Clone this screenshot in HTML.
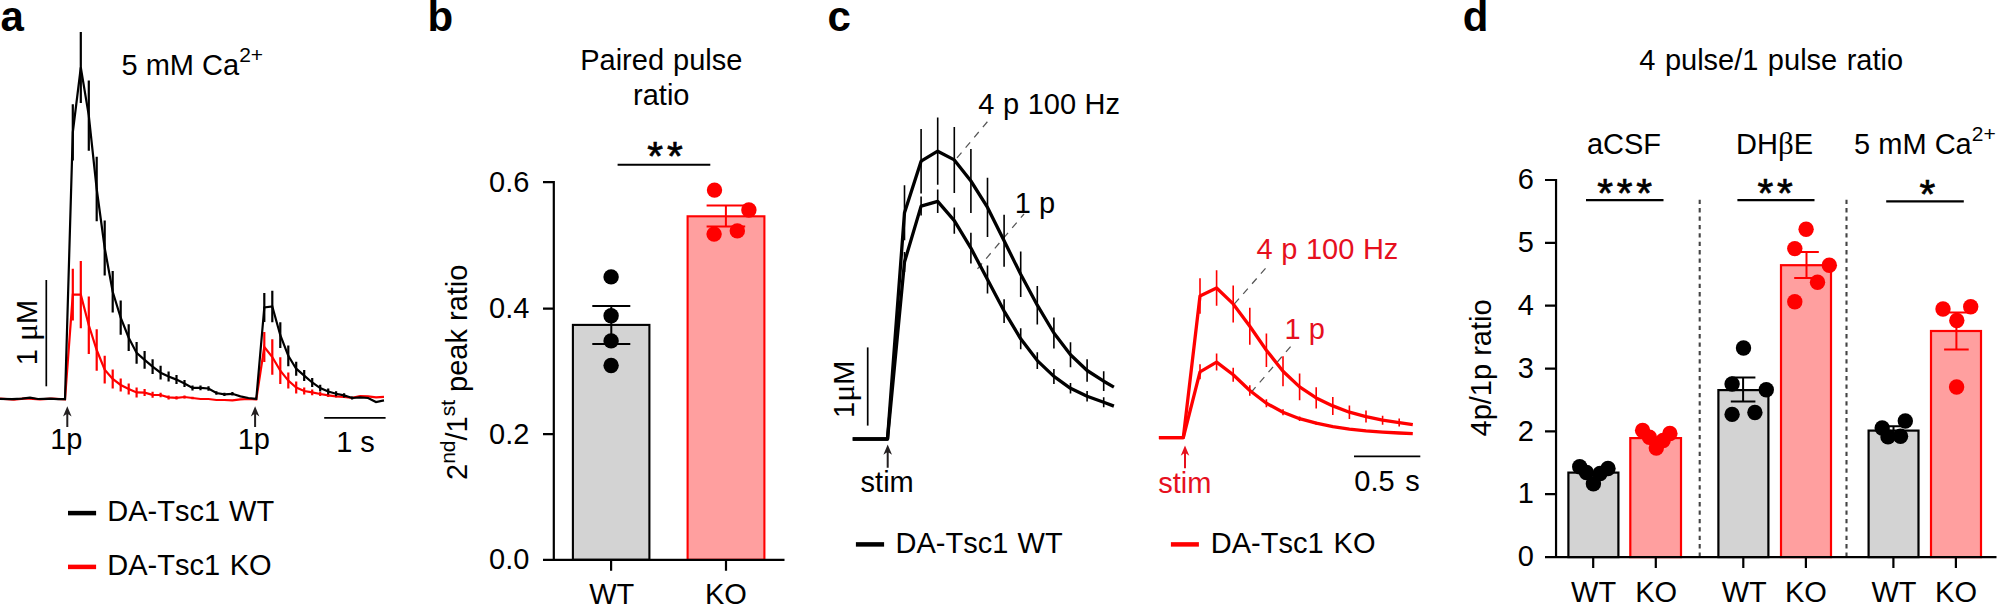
<!DOCTYPE html>
<html lang="en"><head><meta charset="utf-8"><title>Figure</title>
<style>html,body{margin:0;padding:0;background:#fff}svg{display:block}text{font-family:'Liberation Sans', Arial, Helvetica, sans-serif}</style>
</head><body>
<svg width="1998" height="606" viewBox="0 0 1998 606">
<rect width="1998" height="606" fill="#fff"/>
<g id="panel-a">
<text x="0.6" y="30.8" font-size="42" text-anchor="start" fill="#000" font-weight="bold">a</text>
<text x="121.5" y="75" font-size="29">5 mM Ca<tspan font-size="21" dy="-13">2+</tspan></text>
<polyline points="0.0,398.6 14.0,399.6 26.0,398.4 40.0,399.4 52.0,398.6 65.0,399.4 72.8,294.6 80.8,294.6 88.8,325.3 96.7,350.0 104.7,369.7 112.7,379.0 120.7,385.0 128.7,389.0 136.6,392.4 144.6,392.6 152.6,394.8 160.6,395.0 168.6,397.4 176.5,397.8 184.5,397.0 192.5,398.0 200.5,399.0 208.5,399.0 216.4,400.0 224.4,400.0 232.4,400.4 240.4,399.4 248.4,399.0 256.3,399.4 264.3,347.0 272.3,357.0 280.3,370.7 288.3,380.6 296.2,387.5 304.2,391.0 312.2,392.4 320.2,394.0 328.2,395.4 336.1,396.4 344.1,397.0 352.1,397.8 360.1,396.0 368.1,396.4 376.0,397.4 384.0,396.8" fill="none" stroke="#ff0000" stroke-width="2.2" stroke-linejoin="miter"/>
<path d="M72.8 268.8V320.4M80.8 261.0V328.2M88.8 296.6V354.0M96.7 329.2V370.8M104.7 355.8V383.6M112.7 369.6V388.4M120.7 378.5V391.5M128.7 383.5V394.5M136.6 387.4V397.4M144.6 389.1V396.1M152.6 391.8V397.8M160.6 392.8V397.2M168.6 395.4V399.4M176.5 396.2V399.4M184.5 395.5V398.5M192.5 396.8V399.2M264.3 332.1V361.9M272.3 339.2V374.8M280.3 357.3V384.1M288.3 372.6V388.6M296.2 381.6V393.4M304.2 387.5V394.5M312.2 389.6V395.2M320.2 391.9V396.1M328.2 393.8V397.0M336.1 395.2V397.6" fill="none" stroke="#ff0000" stroke-width="2.2"/>
<polyline points="0.0,398.8 12.0,399.2 22.0,398.6 30.0,397.6 38.0,399.0 50.0,398.6 58.0,399.2 65.0,399.2 72.8,132.4 80.8,67.5 88.8,115.6 96.7,189.0 104.7,248.0 112.7,291.7 120.7,317.7 128.7,337.7 136.6,352.9 144.6,359.8 152.6,366.7 160.6,372.7 168.6,376.6 176.5,379.6 184.5,383.5 192.5,387.9 200.5,387.9 208.5,388.5 216.4,393.0 224.4,394.4 232.4,393.8 240.4,396.4 248.4,398.0 256.3,398.8 264.3,307.5 272.3,306.5 280.3,335.2 288.3,355.8 296.2,368.7 304.2,375.6 312.2,382.5 320.2,388.1 328.2,391.5 336.1,393.8 344.1,395.4 352.1,398.0 360.1,397.4 368.1,398.0 376.0,402.0 384.0,400.4" fill="none" stroke="#000" stroke-width="2.2" stroke-linejoin="miter"/>
<path d="M72.8 104.2V160.6M80.8 31.9V103.1M88.8 80.4V150.8M96.7 156.8V221.2M104.7 220.6V275.4M112.7 270.9V312.5M120.7 300.6V334.8M128.7 324.3V351.1M136.6 342.0V363.8M144.6 350.9V368.7M152.6 359.3V374.1M160.6 365.8V379.6M168.6 371.6V381.6M176.5 375.1V384.1M184.5 380.0V387.0M192.5 385.4V390.4M200.5 385.6V390.2M208.5 386.2V390.8M216.4 391.2V394.8M224.4 392.7V396.1M232.4 392.1V395.5M264.3 293.1V321.9M272.3 290.7V322.3M280.3 322.3V348.1M288.3 345.4V366.2M296.2 361.7V375.7M304.2 370.1V381.1M312.2 378.0V387.0M320.2 384.7V391.5M328.2 388.5V394.5M336.1 391.3V396.3M344.1 393.2V397.6M352.1 396.5V399.5" fill="none" stroke="#000" stroke-width="2.2"/>
<line x1="46.30" y1="280.00" x2="46.30" y2="386.30" stroke="#000" stroke-width="1.7" />
<text transform="translate(37.4 365.3) rotate(-90)" font-size="29">1 <tspan font-family="'Liberation Serif', 'DejaVu Serif', serif" font-size="32">μ</tspan>M</text>
<line x1="324.20" y1="417.80" x2="385.60" y2="417.80" stroke="#000" stroke-width="1.7" />
<text x="355.5" y="452.4" font-size="29" text-anchor="middle" fill="#000">1 s</text>
<path d="M67.3 406.3L71.6 416.5L68.3 414.3V427H66.3V414.3L63.0 416.5Z" fill="#231f20"/>
<path d="M255.1 406.3L259.4 416.5L256.1 414.3V427H254.1V414.3L250.8 416.5Z" fill="#231f20"/>
<text x="66.3" y="448.8" font-size="29" text-anchor="middle" fill="#000">1p</text>
<text x="253.8" y="448.8" font-size="29" text-anchor="middle" fill="#000">1p</text>
<line x1="68.00" y1="513.10" x2="96.10" y2="513.10" stroke="#000" stroke-width="4.5" />
<line x1="68.00" y1="566.90" x2="96.10" y2="566.90" stroke="#ff0000" stroke-width="4.5" />
<text x="107.2" y="521.2" font-size="29" text-anchor="start" fill="#000" word-spacing="0.8">DA-T<tspan dx="3.4">sc1 WT</tspan></text>
<text x="107.2" y="575.0" font-size="29" text-anchor="start" fill="#000" word-spacing="1.4">DA-T<tspan dx="3.4">sc1 KO</tspan></text>
</g>
<g id="panel-b">
<text x="427.6" y="30.8" font-size="42" text-anchor="start" fill="#000" font-weight="bold">b</text>
<text x="661.3" y="70.3" font-size="29" text-anchor="middle" fill="#000" word-spacing="1.0">Paired pulse</text>
<text x="661.3" y="105.0" font-size="29" text-anchor="middle" fill="#000">ratio</text>
<rect x="572.9" y="324.9" width="76.5" height="234.9" fill="#d3d3d3" stroke="#000" stroke-width="2.1"/>
<rect x="687.6" y="216.3" width="76.8" height="343.5" fill="#ff9f9f" stroke="#ff0000" stroke-width="2.1"/>
<path d="M553.8 181V559.8M543 559.8H784.5M543 182.1H554M543 308.6H554M543 434.2H554M611.1 559.8V570.8M726 559.8V570.8" fill="none" stroke="#000" stroke-width="2.2"/>
<text x="529.4" y="191.5" font-size="29" text-anchor="end" fill="#000">0.6</text>
<text x="529.4" y="317.79999999999995" font-size="29" text-anchor="end" fill="#000">0.4</text>
<text x="529.4" y="443.59999999999997" font-size="29" text-anchor="end" fill="#000">0.2</text>
<text x="529.4" y="569.0" font-size="29" text-anchor="end" fill="#000">0.0</text>
<text x="611.8" y="604.4" font-size="29" text-anchor="middle" fill="#000">WT</text>
<text x="725.9" y="604.4" font-size="29" text-anchor="middle" fill="#000">KO</text>
<text transform="translate(467 480) rotate(-90)" font-size="29">2<tspan font-size="21" dy="-12">nd</tspan><tspan dy="12">/1</tspan><tspan font-size="21" dy="-12">st</tspan><tspan dy="12"> peak ratio</tspan></text>
<path d="M592.3 305.9H630.3M592.3 344.1H630.3M611.3 305.9V344.1" fill="none" stroke="#000" stroke-width="2"/>
<circle cx="611.1" cy="276.9" r="7.7" fill="#000"/>
<circle cx="611.1" cy="315.8" r="7.7" fill="#000"/>
<circle cx="611.1" cy="340.9" r="7.7" fill="#000"/>
<circle cx="611.1" cy="365.5" r="7.7" fill="#000"/>
<path d="M706.6 205.5H745.2M706.6 226.6H745.2M725.9 205.5V226.6" fill="none" stroke="#ff0000" stroke-width="2"/>
<circle cx="714.5" cy="190.1" r="7.7" fill="#ff0000"/>
<circle cx="748.9" cy="210.0" r="7.7" fill="#ff0000"/>
<circle cx="714.1" cy="234.1" r="7.7" fill="#ff0000"/>
<circle cx="737.3" cy="230.9" r="7.7" fill="#ff0000"/>
<line x1="617.60" y1="164.80" x2="710.30" y2="164.80" stroke="#000" stroke-width="2.0" />
<text x="666.9" y="169.5" font-size="40.5" text-anchor="middle" letter-spacing="3.8" stroke="#000" stroke-width="0.7">**</text>
</g>
<g id="panel-c">
<text x="827.4" y="31.2" font-size="42" text-anchor="start" fill="#000" font-weight="bold">c</text>
<line x1="957.00" y1="157.90" x2="988.00" y2="121.00" stroke="#555" stroke-width="1.25" stroke-dasharray="7 6.4"/>
<line x1="977.50" y1="268.80" x2="1024.00" y2="214.00" stroke="#555" stroke-width="1.25" stroke-dasharray="7 6.4"/>
<path d="M904.5 252.0V272.0M921.1 196.6V215.6M937.7 189.5V213.1M954.3 207.4V233.8M970.9 232.7V263.5M987.5 265.6V293.4M1004.1 299.2V323.0M1020.7 328.3V349.3M1037.3 352.3V368.9M1053.9 368.9V383.9M1070.5 383.0V393.6M1087.1 390.9V401.5M1103.7 397.2V407.2" fill="none" stroke="#000" stroke-width="1.6"/>
<path d="M904.5 185.2V240.2M921.1 128.9V193.5M937.7 117.6V184.8M954.3 126.9V192.9M970.9 149.0V213.0M987.5 177.8V237.0M1004.1 214.8V266.8M1020.7 251.5V297.1M1037.3 286.0V324.4M1053.9 317.6V348.4M1070.5 342.2V367.2M1087.1 359.2V381.8M1103.7 371.3V391.1" fill="none" stroke="#000" stroke-width="1.6"/>
<polyline points="852.7,439.0 887.5,439.0 904.5,262.0 921.1,206.1 937.7,201.3 954.3,220.6 970.9,248.1 987.5,279.5 1004.1,311.1 1020.7,338.8 1037.3,360.6 1053.9,376.4 1070.5,388.3 1087.1,396.2 1103.7,402.2 1113.9,406.1" fill="none" stroke="#000" stroke-width="3.3" stroke-linejoin="round"/>
<polyline points="852.7,439.0 887.5,439.0 904.5,212.7 921.1,161.2 937.7,151.2 954.3,159.9 970.9,181.0 987.5,207.4 1004.1,240.8 1020.7,274.3 1037.3,305.2 1053.9,333.0 1070.5,354.7 1087.1,370.5 1103.7,381.2 1113.9,387.1" fill="none" stroke="#000" stroke-width="3.3" stroke-linejoin="round"/>
<line x1="867.70" y1="347.40" x2="867.70" y2="425.60" stroke="#000" stroke-width="1.7" />
<text transform="translate(853.6 418) rotate(-90)" font-size="29">1<tspan font-family="'Liberation Serif', 'DejaVu Serif', serif" font-size="32">μ</tspan>M</text>
<path d="M887.7 444.6L892.0 454.8L888.7 452.6V467.8H886.7V452.6L883.4 454.8Z" fill="#231f20"/>
<text x="887.2" y="491.8" font-size="29" text-anchor="middle" fill="#000">stim</text>
<text x="978.3" y="113.8" font-size="29" text-anchor="start" fill="#000" word-spacing="0.5">4 p 100 Hz</text>
<text x="1014.8" y="212.6" font-size="29" text-anchor="start" fill="#000">1 p</text>
<line x1="1234.40" y1="303.90" x2="1266.30" y2="267.50" stroke="#555" stroke-width="1.25" stroke-dasharray="7 6.4"/>
<line x1="1251.00" y1="392.50" x2="1292.80" y2="344.00" stroke="#555" stroke-width="1.25" stroke-dasharray="7 6.4"/>
<path d="M1200.0 364.3V379.3M1216.6 353.6V370.6M1233.2 367.7V381.7M1249.8 385.3V395.7M1266.4 399.3V407.3M1283.0 409.2V415.2M1299.6 416.5V420.9M1316.2 421.7V424.7M1332.8 425.7V427.7" fill="none" stroke="#ff0000" stroke-width="1.6"/>
<path d="M1200.0 278.2V313.8M1216.6 270.2V305.8M1233.2 285.4V322.4M1249.8 307.8V344.8M1266.4 333.5V366.9M1283.0 356.2V386.2M1299.6 373.5V400.3M1316.2 387.2V408.6M1332.8 396.9V414.9M1349.4 405.5V418.9M1366.0 410.6V422.6M1382.6 415.7V424.7M1399.2 418.6V426.6" fill="none" stroke="#ff0000" stroke-width="1.6"/>
<polyline points="1158.9,437.6 1183.3,437.6 1200.0,371.8 1216.6,362.1 1233.2,374.7 1249.8,390.5 1266.4,403.3 1283.0,412.2 1299.6,418.7 1316.2,423.2 1332.8,426.7 1349.4,429.1 1366.0,430.9 1382.6,432.1 1399.2,433.0 1412.8,433.6" fill="none" stroke="#ff0000" stroke-width="3.3" stroke-linejoin="round"/>
<polyline points="1158.9,437.6 1183.3,437.6 1200.0,296.0 1216.6,288.0 1233.2,303.9 1249.8,326.3 1266.4,350.2 1283.0,371.2 1299.6,386.9 1316.2,397.9 1332.8,405.9 1349.4,412.2 1366.0,416.6 1382.6,420.2 1399.2,422.6 1412.8,424.6" fill="none" stroke="#ff0000" stroke-width="3.3" stroke-linejoin="round"/>
<path d="M1185 445.6L1189.3 455.8L1186.0 453.6V468.2H1184.0V453.6L1180.7 455.8Z" fill="#e6101e"/>
<text x="1184.9" y="492.5" font-size="29" text-anchor="middle" fill="#e6101e">stim</text>
<text x="1256.6" y="259" font-size="29" text-anchor="start" fill="#e6101e" word-spacing="0.5">4 p 100 Hz</text>
<text x="1284.6" y="338.6" font-size="29" text-anchor="start" fill="#e6101e">1 p</text>
<line x1="1354.00" y1="456.40" x2="1420.30" y2="456.40" stroke="#000" stroke-width="1.8" />
<text x="1387" y="491.3" font-size="29" text-anchor="middle" fill="#000" word-spacing="2.4">0.5 s</text>
<line x1="855.90" y1="544.40" x2="884.10" y2="544.40" stroke="#000" stroke-width="4.5" />
<text x="895.5" y="553.2" font-size="29" text-anchor="start" fill="#000" word-spacing="1.0">DA-T<tspan dx="3.4">sc1 WT</tspan></text>
<line x1="1170.90" y1="544.40" x2="1198.90" y2="544.40" stroke="#ff0000" stroke-width="4.5" />
<text x="1210.7" y="553.2" font-size="29" text-anchor="start" fill="#000" word-spacing="1.8">DA-T<tspan dx="3.4">sc1 KO</tspan></text>
</g>
<g id="panel-d">
<text x="1462.8" y="31.4" font-size="42" text-anchor="start" fill="#000" font-weight="bold">d</text>
<text x="1771.2" y="70.3" font-size="29" text-anchor="middle" fill="#000" word-spacing="1.4">4 pulse/1 pulse ratio</text>
<text x="1624" y="153.8" font-size="29" text-anchor="middle" fill="#000">aCSF</text>
<text x="1774.6" y="153.8" font-size="29" text-anchor="middle">DH<tspan font-size="31" font-family="'Liberation Serif', 'DejaVu Serif', serif">β</tspan>E</text>
<text x="1854.1" y="154" font-size="29">5 mM Ca<tspan font-size="21" dy="-13">2+</tspan></text>
<line x1="1699.70" y1="199.70" x2="1699.70" y2="556.50" stroke="#444" stroke-width="2.1" stroke-dasharray="4.3 4.1"/>
<line x1="1846.50" y1="199.70" x2="1846.50" y2="556.50" stroke="#444" stroke-width="2.1" stroke-dasharray="4.3 4.1"/>
<rect x="1568.4" y="472.6" width="50.0" height="84.5" fill="#d3d3d3" stroke="#000" stroke-width="2.2"/>
<rect x="1630.3" y="438.1" width="50.7" height="119.0" fill="#ff9f9f" stroke="#ff0000" stroke-width="2.2"/>
<rect x="1718.4" y="390.1" width="50.0" height="167.0" fill="#d3d3d3" stroke="#000" stroke-width="2.2"/>
<rect x="1781.0" y="265.2" width="50.0" height="291.9" fill="#ff9f9f" stroke="#ff0000" stroke-width="2.2"/>
<rect x="1868.6" y="430.6" width="49.9" height="126.5" fill="#d3d3d3" stroke="#000" stroke-width="2.2"/>
<rect x="1931.0" y="331.0" width="50.0" height="226.1" fill="#ff9f9f" stroke="#ff0000" stroke-width="2.2"/>
<path d="M1556.05 179V557.1M1545 557.1H1996.5M1545 494.2H1556M1545 431.4H1556M1545 368.6H1556M1545 305.7H1556M1545 242.9H1556M1545 180.0H1556M1593.2 557.1V568M1655.8 557.1V568M1743.3 557.1V568M1805.9 557.1V568M1893.4 557.1V568M1955.9 557.1V568" fill="none" stroke="#000" stroke-width="2.2"/>
<text x="1533.9" y="566.3000000000001" font-size="29" text-anchor="end" fill="#000">0</text>
<text x="1533.9" y="503.45" font-size="29" text-anchor="end" fill="#000">1</text>
<text x="1533.9" y="440.6" font-size="29" text-anchor="end" fill="#000">2</text>
<text x="1533.9" y="377.75" font-size="29" text-anchor="end" fill="#000">3</text>
<text x="1533.9" y="314.90000000000003" font-size="29" text-anchor="end" fill="#000">4</text>
<text x="1533.9" y="252.05" font-size="29" text-anchor="end" fill="#000">5</text>
<text x="1533.9" y="189.2" font-size="29" text-anchor="end" fill="#000">6</text>
<text x="1593.6" y="601.6" font-size="29" text-anchor="middle" fill="#000">WT</text>
<text x="1656.2" y="601.6" font-size="29" text-anchor="middle" fill="#000">KO</text>
<text x="1744.2" y="601.6" font-size="29" text-anchor="middle" fill="#000">WT</text>
<text x="1805.9" y="601.6" font-size="29" text-anchor="middle" fill="#000">KO</text>
<text x="1894" y="601.6" font-size="29" text-anchor="middle" fill="#000">WT</text>
<text x="1956" y="601.6" font-size="29" text-anchor="middle" fill="#000">KO</text>
<text transform="translate(1490.9 436.5) rotate(-90)" font-size="29">4p/1p ratio</text>
<circle cx="1579.7" cy="466.8" r="7.7" fill="#000"/>
<circle cx="1608.0" cy="468.5" r="7.7" fill="#000"/>
<circle cx="1586.4" cy="472.5" r="7.7" fill="#000"/>
<circle cx="1600.1" cy="473.5" r="7.7" fill="#000"/>
<circle cx="1593.4" cy="483.8" r="7.7" fill="#000"/>
<circle cx="1642.6" cy="430.5" r="7.7" fill="#ff0000"/>
<circle cx="1669.9" cy="433.5" r="7.7" fill="#ff0000"/>
<circle cx="1649.4" cy="437.2" r="7.7" fill="#ff0000"/>
<circle cx="1663.1" cy="440.5" r="7.7" fill="#ff0000"/>
<circle cx="1656.3" cy="448.1" r="7.7" fill="#ff0000"/>
<path d="M1730.8 377.5H1755.4M1730.8 401.4H1755.4M1743.1 377.5V401.4" fill="none" stroke="#000" stroke-width="2"/>
<circle cx="1743.5" cy="348.0" r="7.7" fill="#000"/>
<circle cx="1732.1" cy="384.0" r="7.7" fill="#000"/>
<circle cx="1766.3" cy="389.7" r="7.7" fill="#000"/>
<circle cx="1732.1" cy="414.4" r="7.7" fill="#000"/>
<circle cx="1754.9" cy="412.5" r="7.7" fill="#000"/>
<path d="M1794.2 251.9H1818.8M1794.2 278.0H1818.8M1806.5 251.9V278.0" fill="none" stroke="#ff0000" stroke-width="2"/>
<circle cx="1806.1" cy="229.2" r="7.7" fill="#ff0000"/>
<circle cx="1794.8" cy="248.6" r="7.7" fill="#ff0000"/>
<circle cx="1829.3" cy="265.3" r="7.7" fill="#ff0000"/>
<circle cx="1817.5" cy="282.3" r="7.7" fill="#ff0000"/>
<circle cx="1794.8" cy="301.7" r="7.7" fill="#ff0000"/>
<path d="M1881.2 426.3H1905.8M1881.2 434.2H1905.8M1893.5 426.3V434.2" fill="none" stroke="#000" stroke-width="2"/>
<circle cx="1905.3" cy="421.0" r="7.7" fill="#000"/>
<circle cx="1882.2" cy="428.0" r="7.7" fill="#000"/>
<circle cx="1888.0" cy="436.9" r="7.7" fill="#000"/>
<circle cx="1900.5" cy="436.2" r="7.7" fill="#000"/>
<path d="M1944.1 312.6H1968.7M1944.1 349.6H1968.7M1956.4 312.6V349.6" fill="none" stroke="#ff0000" stroke-width="2"/>
<circle cx="1943.0" cy="309.0" r="7.7" fill="#ff0000"/>
<circle cx="1970.7" cy="306.7" r="7.7" fill="#ff0000"/>
<circle cx="1956.8" cy="320.5" r="7.7" fill="#ff0000"/>
<circle cx="1956.6" cy="387.0" r="7.7" fill="#ff0000"/>
<line x1="1586.00" y1="200.20" x2="1663.50" y2="200.20" stroke="#000" stroke-width="2.3" />
<text x="1626.5" y="207.4" font-size="40.5" text-anchor="middle" letter-spacing="3.8" stroke="#000" stroke-width="0.7">***</text>
<line x1="1737.40" y1="200.20" x2="1814.50" y2="200.20" stroke="#000" stroke-width="2.3" />
<text x="1777.1000000000001" y="207.2" font-size="40.5" text-anchor="middle" letter-spacing="3.8" stroke="#000" stroke-width="0.7">**</text>
<line x1="1886.20" y1="201.30" x2="1963.80" y2="201.30" stroke="#000" stroke-width="2.3" />
<text x="1929.2" y="208.2" font-size="40.5" text-anchor="middle" letter-spacing="3.8" stroke="#000" stroke-width="0.7">*</text>
</g>
</svg>
</body></html>
